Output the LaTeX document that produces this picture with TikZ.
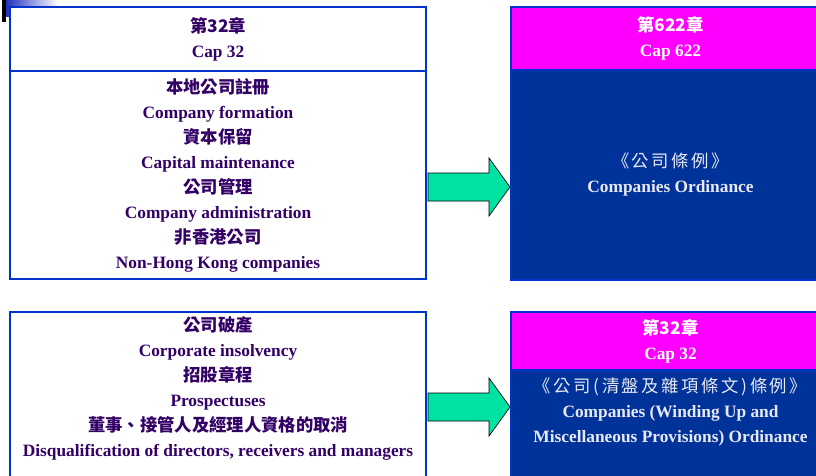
\documentclass[tikz,border=0pt]{standalone}
\usepackage{fontspec}
\setmainfont{Liberation Serif}
\newfontfamily\cjk{Noto Sans CJK TC}
\newfontfamily\cjkwide{Noto Sans CJK TC}[LetterSpace=15]
\usepackage{tikz}
\usetikzlibrary{calc,fit}
\definecolor{lawblue}{RGB}{0,51,204}
\definecolor{lawnavy}{RGB}{0,51,153}
\definecolor{lawpink}{RGB}{255,0,255}
\definecolor{lawpurple}{RGB}{51,0,102}
\definecolor{lawgreen}{RGB}{0,226,164}
\definecolor{lawlight}{RGB}{232,232,242}
\tikzset{
  box/.style={draw=lawblue,line width=1.5pt,inner sep=0pt},
  leftbox/.style={box,fill=white},
  headbox/.style={box,fill=lawpink},
  navybox/.style={box,fill=lawnavy},
  ltext/.style={text=lawpurple,align=center,font=\bfseries\fontsize{13}{18.75}\selectfont},
  wtext/.style={ltext,text=white},
  ntext/.style={ltext,text=lawlight},
  greenarrow/.style={draw=black,fill=lawgreen,line width=0.5pt,line join=miter}
}

\begin{document}
\begin{tikzpicture}[x=0.75pt,y=-0.75pt]
\useasboundingbox (0,0) rectangle (816,475);

% corner mark
\shade[left color=lawblue!80!violet,right color=white] (4,0) rectangle (58,16);
\fill[black] (2,0) rectangle (6,22);

% boxes
\node[leftbox,fit={(10,7) (426,71)}] (hdrA) {};
\node[leftbox,fit={(10,71) (426,279)}] (bodyA) {};
\node[headbox,fit={(511,7) (830,70)}] (hdrB) {};
\node[navybox,fit={(511,70) (830,280)}] (bodyB) {};
\node[leftbox,fit={(10,312) (426,500)}] (bodyC) {};
\node[headbox,fit={(511,312) (830,370)}] (hdrD) {};
\node[navybox,fit={(511,370) (830,500)}] (bodyD) {};

% texts
\node[ltext] (capA) at (hdrA.center) {{\cjk 第32章}\\Cap 32};
\node[ltext] (listA) at (bodyA.center) {{\cjk 本地公司註冊}\\Company formation\\{\cjk 資本保留}\\Capital maintenance\\{\cjk 公司管理}\\Company administration\\{\cjk 非香港公司}\\Non-Hong Kong companies};
\node[wtext] (capB) at (hdrB.center) {{\cjk 第622章}\\Cap 622};
\node[ntext] (nameB) at (bodyB.center) {{\cjkwide\mdseries 《公司條例》}\\Companies Ordinance};
\node[ltext] (listC) at ($(bodyC.north)+(0,77.5)$) {{\cjk 公司破產}\\Corporate insolvency\\{\cjk 招股章程}\\Prospectuses\\{\cjk 董事、接管人及經理人資格的取消}\\Disqualification of directors, receivers and managers};
\node[wtext] (capD) at (hdrD.center) {{\cjk 第32章}\\Cap 32};
\node[ntext] (nameD) at ($(bodyD.north)+(0,42.5)$) {{\cjkwide\mdseries 《公司(清盤及雜項條文)條例》}\\Companies (Winding Up and\\Miscellaneous Provisions) Ordinance};

% arrows
\foreach \s/\t/\y in {bodyA/bodyB/187,bodyC/bodyD/407}{
  \coordinate (ay) at (0,\y);
  \coordinate (tail) at (\s.east |- ay);
  \coordinate (tip) at (\t.west |- ay);
  \draw[greenarrow] ($(tail)+(1,-14)$) -- ($(tip)+(-21,-14)$) -- ($(tip)+(-21,-29)$) -- (tip)
    -- ($(tip)+(-21,29)$) -- ($(tip)+(-21,14)$) -- ($(tail)+(1,14)$) -- cycle;
}
\end{tikzpicture}
\end{document}
